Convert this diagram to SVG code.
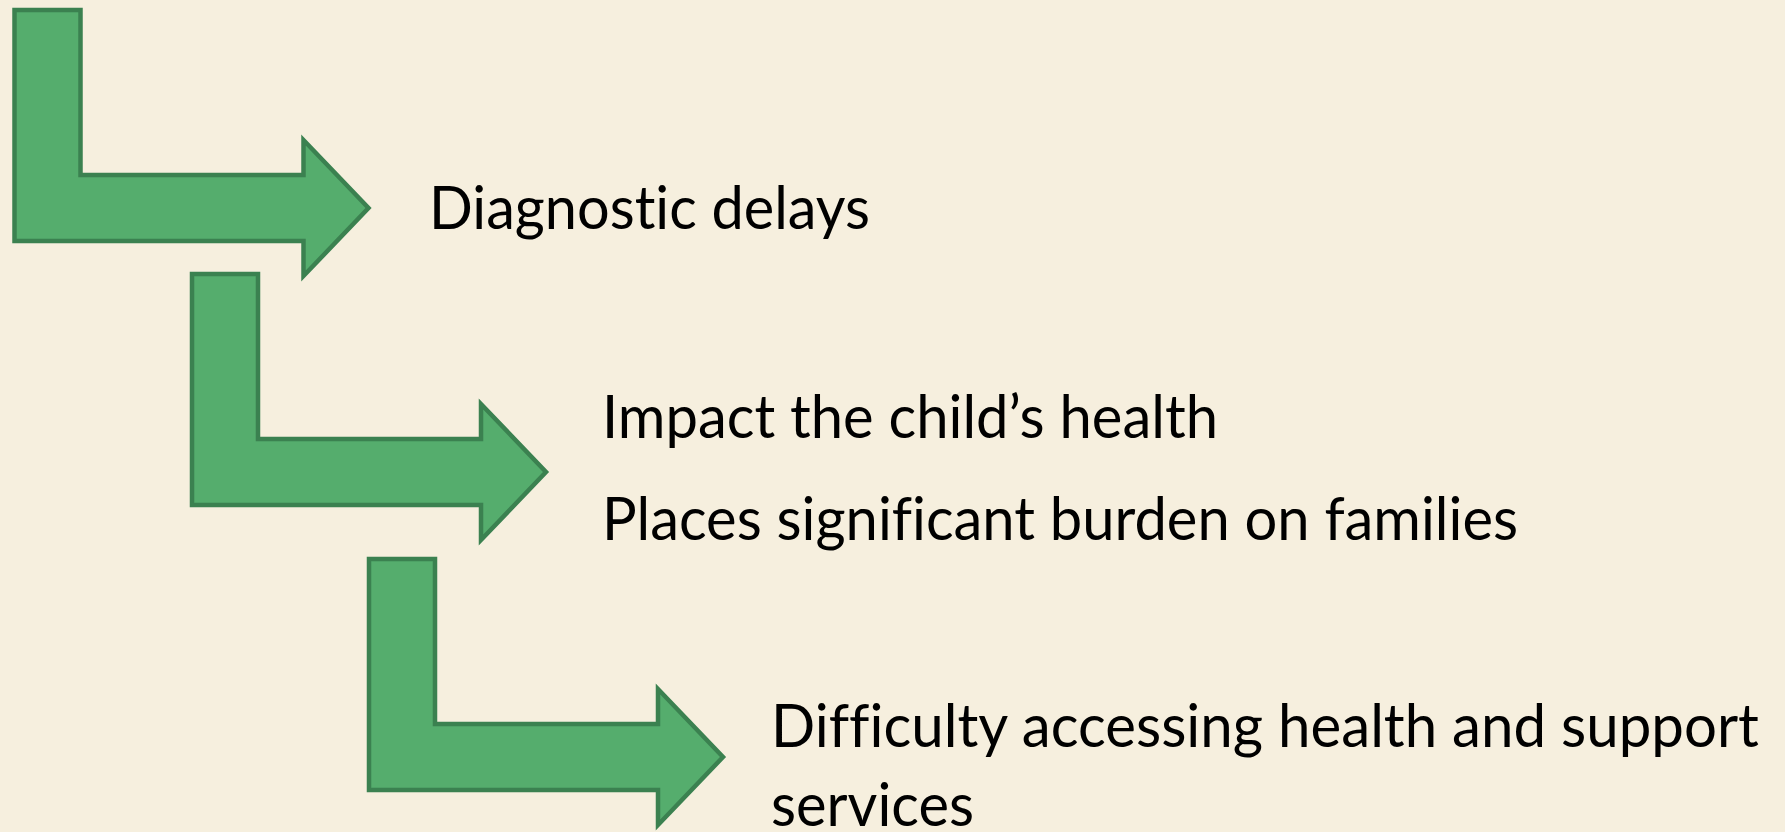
<svg xmlns="http://www.w3.org/2000/svg" xmlns:xlink="http://www.w3.org/1999/xlink" width="1785" height="832" viewBox="0 0 1785 832">
  <style>
    .bend { fill: #55AD6D; stroke: #3B8150; stroke-width: 4.5; stroke-linejoin: miter; }
    .label { font-family: "Lato", "Open Sans", "Liberation Sans", sans-serif; font-size: 60px; fill: #000000; font-variant-ligatures: none; }
  </style>
  <defs>
    <!-- bent-up arrow: vertical bar dropping into a right-pointing arrow -->
    <path id="bentArrow" d="M0,0 H66 V165 H289 V130 L354,198 L289,266 V231 H0 Z"/>
  </defs>

  <rect x="0" y="0" width="1785" height="832" fill="#F6EFDE"/>

  <g id="connectors"/>

  <g id="step1">
    <use xlink:href="#bentArrow" href="#bentArrow" class="bend" transform="translate(14.5,10)"/>
    <text class="label" x="429" y="229" textLength="441" lengthAdjust="spacingAndGlyphs">Diagnostic delays</text>
  </g>

  <g id="step2">
    <use xlink:href="#bentArrow" href="#bentArrow" class="bend" transform="translate(192,274)"/>
    <text class="label" x="602" y="438" textLength="616" lengthAdjust="spacingAndGlyphs">Impact the child’s health</text>
    <text class="label" x="602" y="540" textLength="916" lengthAdjust="spacingAndGlyphs">Places significant burden on families</text>
  </g>

  <g id="step3">
    <use xlink:href="#bentArrow" href="#bentArrow" class="bend" transform="translate(369,559)"/>
    <text class="label" x="771" y="747" textLength="988" lengthAdjust="spacingAndGlyphs">Difficulty accessing health and support</text>
    <text class="label" x="771" y="826" textLength="203" lengthAdjust="spacingAndGlyphs">services</text>
  </g>
</svg>
